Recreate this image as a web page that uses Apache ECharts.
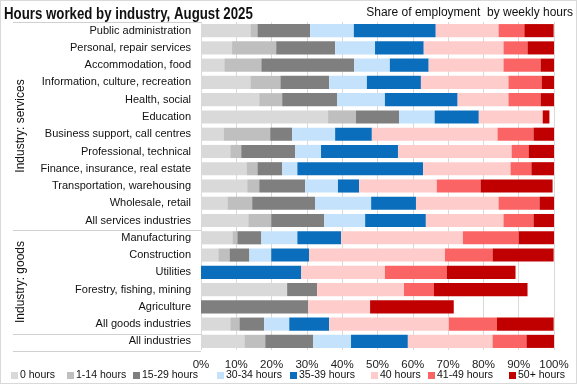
<!DOCTYPE html>
<html>
<head>
<meta charset="utf-8">
<script src="https://cdn.jsdelivr.net/npm/echarts@6/dist/echarts.min.js"></script>
<style>
html,body{margin:0;padding:0;background:#fff;}
#c{width:577px;height:384px;box-sizing:border-box;border:1px solid #d9d9d9;}
</style>
</head>
<body>
<div id="c"></div>
<script>
const categories = ["Public administration","Personal, repair services","Accommodation, food","Information, culture, recreation","Health, social","Education","Business support, call centres","Professional, technical","Finance, insurance, real estate","Transportation, warehousing","Wholesale, retail","All services industries","Manufacturing","Construction","Utilities","Forestry, fishing, mining","Agriculture","All goods industries","All industries"];
const seriesNames = ["0 hours","1-14 hours","15-29 hours","30-34 hours","35-39 hours","40 hours","41-49 hours","50+ hours"];
const h0    = [14.0, 8.8, 6.6,14.0,16.5,36.0, 6.4, 8.3,12.9,13.1, 7.5,13.4, 8.9, 4.9,   0,24.4,   0, 8.3,12.3];
const h1_14 = [ 2.0,12.5,10.5, 8.5, 6.5, 7.9,13.2, 3.1, 3.1, 3.4, 7.0, 6.5, 1.4, 3.2,   0,   0,   0, 2.6, 5.9];
const h15_29= [14.9,16.7,26.3,13.8,15.6,12.2, 6.2,15.3, 7.0,13.0,17.8,15.0, 6.8, 5.6,   0, 8.5,30.4, 7.0,13.6];
const h30_34= [12.4,11.3,10.1,10.7,13.5,10.1,12.2, 7.3, 4.3, 9.3,15.9,11.6,10.2, 6.2,   0,   0,   0, 7.1,10.7];
const h35_39= [23.2,13.8,11.0,15.3,20.6,12.5,10.4,21.8,35.6, 6.0,12.7,17.2,12.4,10.7,28.4,   0,   0,11.3,16.1];
const h40   = [17.8,22.6,21.2,24.8,14.4,18.1,35.6,32.2,24.8,22.0,23.4,22.0,34.5,38.5,23.7,24.6,17.5,33.9,24.0];
const h41_49= [ 7.3, 6.8,10.5, 9.4, 9.1,   0,10.2, 4.8, 5.9,12.4,11.6, 8.5,15.8,13.5,17.5, 8.5,   0,13.6, 9.6];
const h50p  = [ 8.3, 7.5, 3.8, 3.5, 3.8, 1.9, 5.8, 7.2, 6.4,20.4, 4.1, 5.8,10.0,17.3,19.5,26.5,23.7,16.1, 7.8];
const xTicks = [0,10,20,30,40,50,60,70,80,90,100];

const values = [h0,h1_14,h15_29,h30_34,h35_39,h40,h41_49,h50p];
const colors = ["#d9d9d9","#bfbfbf","#7f7f7f","#c4e2fb","#0a6ebd","#ffcccc","#fb6464","#c00000"];
const legendLeft = [10, 66, 132, 216, 289, 370, 427, 508];
const font = "'Liberation Sans', Arial, sans-serif";

const chart = echarts.init(document.getElementById('c'), null, {renderer:'canvas'});
const series = seriesNames.map((n,i)=>({
  name:n, type:'bar', stack:'all', data:values[i], barCategoryGap:'24%',
  itemStyle:{color:colors[i]}, emphasis:{disabled:true}
}));
const legends = seriesNames.map((n,i)=>({
  data:[n], bottom:2, left:legendLeft[i], itemWidth:7, itemHeight:7, itemGap:0, icon:'rect',
  padding:0, textStyle:{fontSize:10.5, color:'#111', padding:[0,0,0,-3]}, selectedMode:false
}));
const lineStyle = {stroke:'#d0d0d0', lineWidth:1};
chart.setOption({
  animation:false,
  textStyle:{fontFamily:font},
  grid:{left:200, right:22, top:21, bottom:33, containLabel:false},
  xAxis:{type:'value', min:0, max:100, interval:10,
    axisLabel:{formatter:v=>xTicks.includes(v)?v+'%':'', color:'#222', fontSize:11.5, margin:9},
    splitLine:{lineStyle:{color:'#d9d9d9'}}, axisLine:{show:false}, axisTick:{show:false}},
  yAxis:{type:'category', data:categories, inverse:true,
    axisLabel:{color:'#111', fontSize:11, margin:10},
    axisLine:{show:false}, axisTick:{show:false}},
  legend:legends,
  series:series,
  graphic:[
    {type:'text', x:3, y:13, scaleX:0.78, style:{text:'Hours worked by industry, August 2025', fontSize:17, fontWeight:'bold', fontFamily:font, fill:'#111', verticalAlign:'middle'}},
    {type:'text', x:572, y:12, scaleX:0.96, style:{text:'Share of employment  by weekly hours', fontSize:12.5, fontFamily:font, fill:'#111', align:'right', verticalAlign:'middle'}},
    {type:'line', shape:{x1:12,y1:21.5,x2:200,y2:21.5}, style:lineStyle, silent:true},
    {type:'line', shape:{x1:12,y1:229.5,x2:200,y2:229.5}, style:lineStyle, silent:true},
    {type:'line', shape:{x1:12,y1:333.5,x2:200,y2:333.5}, style:lineStyle, silent:true},
    {type:'line', shape:{x1:12,y1:350.5,x2:200,y2:350.5}, style:lineStyle, silent:true},
    {type:'text', x:20, y:125, rotation:Math.PI/2, style:{text:'Industry: services', fontSize:12, fontFamily:font, fill:'#111', align:'center', verticalAlign:'middle'}},
    {type:'text', x:20, y:281, rotation:Math.PI/2, style:{text:'Industry: goods', fontSize:12, fontFamily:font, fill:'#111', align:'center', verticalAlign:'middle'}}
  ]
});
</script>
</body>
</html>
